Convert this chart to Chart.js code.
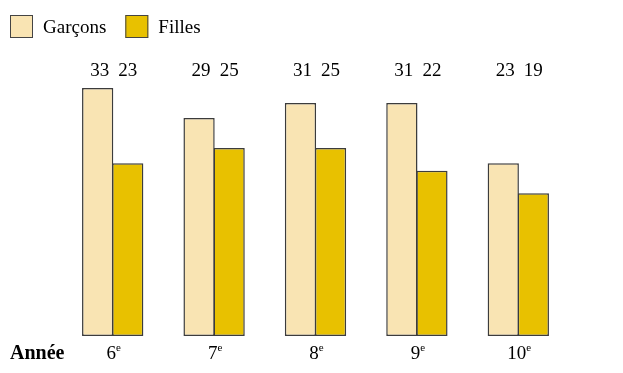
<!DOCTYPE html>
<html>
<head>
<meta charset="utf-8">
<script src="https://cdn.jsdelivr.net/npm/chart.js@4/dist/chart.umd.min.js"></script>
<style>
  html, body { margin: 0; padding: 0; background: #fff; }
  #wrap { width: 623px; height: 373px; }
</style>
</head>
<body>
<div id="wrap"><canvas id="c" width="623" height="373"></canvas></div>
<script>
const years = ['6', '7', '8', '9', '10'];
const garcons = [33, 29, 31, 31, 23];
const filles = [23, 25, 25, 22, 19];
const seriesNames = ['Garçons', 'Filles'];
const colors = ['#f9e4b3', '#e8c100'];
const axisTitle = 'Année';

const FONT = '"Liberation Serif", "Times New Roman", serif';

// legend, value labels and year labels drawn by hand (serif + superscript)
const textPlugin = {
  id: 'textPlugin',
  afterDraw(chart) {
    const { ctx, scales: { x, y } } = chart;
    ctx.save();
    ctx.fillStyle = '#000';

    // legend
    let lx = 10;
    ctx.font = '19px ' + FONT;
    ctx.textBaseline = 'alphabetic';
    ctx.textAlign = 'left';
    seriesNames.forEach((name, i) => {
      ctx.fillStyle = colors[i];
      ctx.fillRect(lx, 15, 23, 23);
      ctx.strokeStyle = '#444';
      ctx.lineWidth = 1;
      ctx.strokeRect(lx + 0.5, 15.5, 22, 22);
      ctx.fillStyle = '#000';
      ctx.fillText(name, lx + 33, 33);
      lx += 33 + ctx.measureText(name).width + 19;
    });

    // value labels
    ctx.font = '19px ' + FONT;
    ctx.textAlign = 'center';
    chart.data.datasets.forEach((ds, di) => {
      const meta = chart.getDatasetMeta(di);
      meta.data.forEach((bar, i) => {
        ctx.fillText(String(ds.data[i]), bar.x + (di === 0 ? 2 : 0), 76);
      });
    });

    // axis title
    ctx.textAlign = 'left';
    ctx.font = 'bold 20px ' + FONT;
    ctx.fillText(axisTitle, 10, 359);

    // year labels with superscript e
    years.forEach((yr, i) => {
      const cx = x.getPixelForValue(i) + 1;
      ctx.font = '19px ' + FONT;
      const w1 = ctx.measureText(yr).width;
      ctx.font = '11px ' + FONT;
      const w2 = ctx.measureText('e').width;
      const sx = cx - (w1 + w2) / 2;
      ctx.font = '19px ' + FONT;
      ctx.fillText(yr, sx, 359);
      ctx.font = '11px ' + FONT;
      ctx.fillText('e', sx + w1, 351);
    });
    ctx.restore();
  }
};

// bars overlap by ~1px so the pair shares a single edge
const barStyle = {
  borderColor: '#3c3c3c',
  borderWidth: 1.5,
  borderSkipped: false,
  barPercentage: 1.04,
  categoryPercentage: 0.593,
};

new Chart(document.getElementById('c'), {
  type: 'bar',
  data: {
    labels: years,
    datasets: [
      { label: seriesNames[0], data: garcons, backgroundColor: colors[0], ...barStyle },
      { label: seriesNames[1], data: filles, backgroundColor: colors[1], ...barStyle }
    ]
  },
  options: {
    responsive: false,
    animation: false,
    layout: {
      padding: { left: 62, right: 54, top: 88, bottom: 37 }
    },
    plugins: {
      legend: { display: false },
      tooltip: { enabled: false },
      title: { display: false },
    },
    scales: {
      x: { display: false },
      y: { display: false, min: 0, max: 33 }
    }
  },
  plugins: [textPlugin]
});
</script>
</body>
</html>
